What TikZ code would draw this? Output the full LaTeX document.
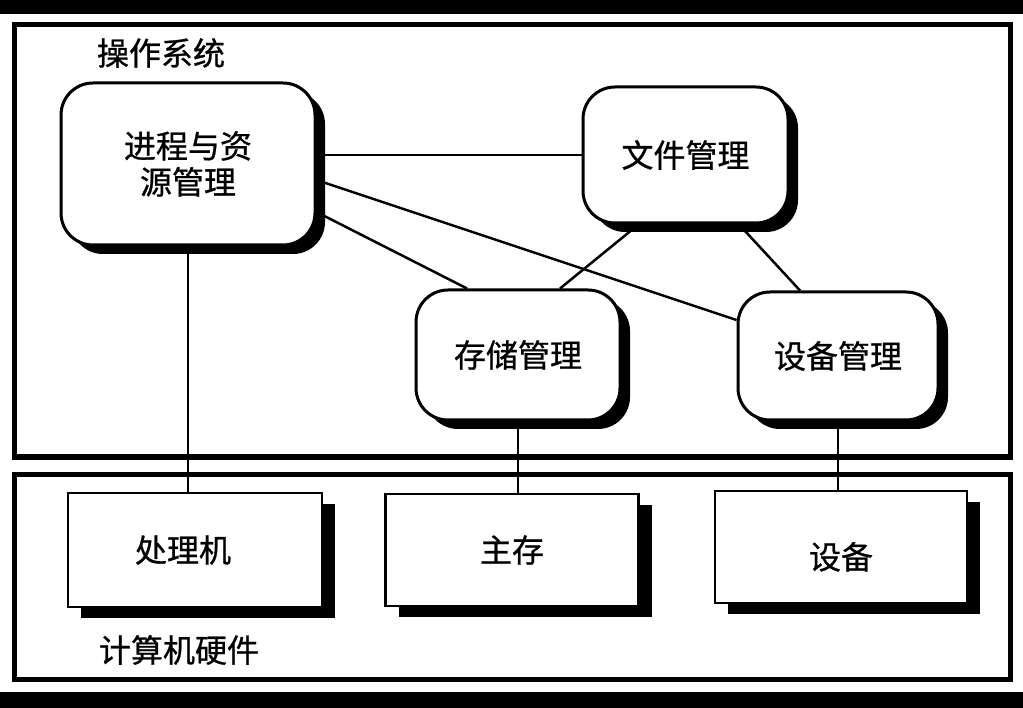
\documentclass[tikz,border=0pt]{standalone}
\usepackage{fontspec}
\setmainfont[FakeBold=0.8]{Noto Sans CJK SC}
\usetikzlibrary{shadows,backgrounds,calc}
\begin{document}
\begin{tikzpicture}[x=1pt,y=-1pt,
  txt/.style={font=\fontsize{32}{36}\selectfont},
  mgr/.style={draw,line width=3pt,rounded corners=32pt,fill=white,align=center,inner sep=0pt,
    font=\fontsize{32}{36}\selectfont,
    drop shadow={shadow xshift=10pt,shadow yshift=-9pt,fill=black,opacity=1}},
  hwbox/.style={draw,line width=2.5pt,fill=white,inner sep=0pt,
    font=\fontsize{32}{36}\selectfont,
    drop shadow={shadow xshift=13pt,shadow yshift=-11pt,fill=black,opacity=1}},
  frame/.style={draw,line width=5pt,inner sep=0pt},
  link/.style={line width=2.5pt}]
\useasboundingbox (0,0) rectangle (1023,708);
\fill[black] (0,0) rectangle (1023,14);
\fill[black] (0,692) rectangle (1023,708);
% frames
\node[frame,minimum width=996pt,minimum height=432pt] (os) at (512,241) {};
\node[frame,minimum width=996pt,minimum height=205pt] (hwf) at (512,576.5) {};
\node[txt] (ostitle) at (161,53) {操作系统};
\node[txt] (hwtitle) at (179,650) {计算机硬件};
% managers
\node[mgr,minimum width=254pt,minimum height=162pt] (proc) at (188,164) {进程与资\\源管理};
\node[mgr,minimum width=205pt,minimum height=136pt] (file) at (685.5,155) {文件管理};
\node[mgr,minimum width=204pt,minimum height=130pt] (stor) at (518,355) {存储管理};
\node[mgr,minimum width=200pt,minimum height=128pt] (dev) at (838,356) {设备管理};
% hardware
\node[hwbox,minimum width=254pt,minimum height=114pt] (cpu) at (195,550) {\hspace*{-24pt}处理机};
\node[hwbox,minimum width=253pt,minimum height=112pt] (mem) at (512,550) {主存};
\node[hwbox,minimum width=252pt,minimum height=112pt] (hdev) at (841,547) {\raisebox{-22pt}[0pt][0pt]{设备}};
% connectors
\begin{pgfonlayer}{background}
\fill[white] (0,14) rectangle (1023,692);
\draw[link] (proc.east |- file.west) -- (file.west);
\draw[link] ($(proc.east)+(0,16)$) -- ($(dev.west)+(0,-36)$);
\draw[link] ($(proc.east)+(0,48)$) -- ($(stor.north)+(-51,0)$);
\draw[link] ($(file.south)+(-47,0)$) -- ($(stor.north)+(42,0)$);
\draw[link] ($(file.south)+(53.5,0)$) -- ($(dev.north)+(-38,0)$);
\draw[link] (proc.south) -- (proc.south |- cpu.north);
\draw[link] (stor.south) -- (stor.south |- mem.north);
\draw[link] (dev.south) -- (dev.south |- hdev.north);
\end{pgfonlayer}
\end{tikzpicture}
\end{document}
